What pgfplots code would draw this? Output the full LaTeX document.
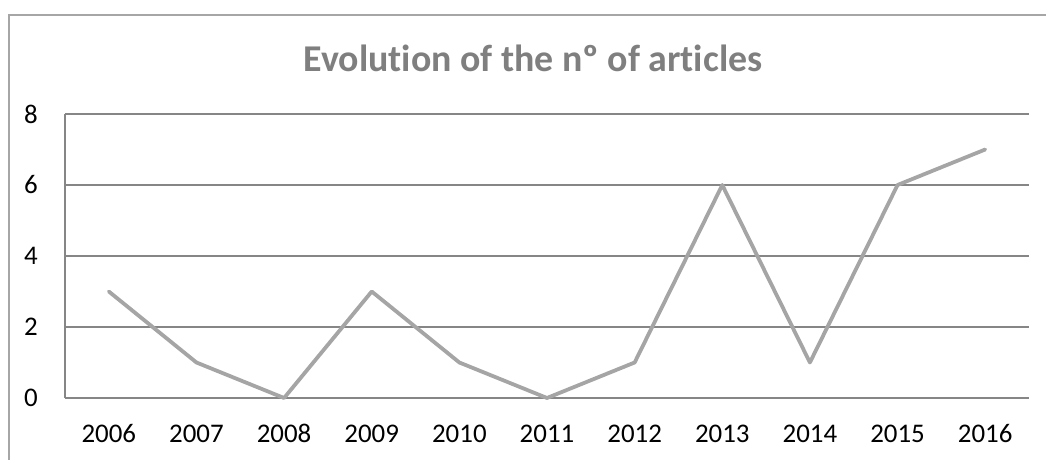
\documentclass[border=0pt]{standalone}
\usepackage{pgfplots}
\pgfplotsset{compat=1.18}
\usepackage{fontspec}
\setmainfont{Carlito}[Ligatures={NoCommon,TeX}]
\definecolor{linegray}{HTML}{A5A5A5}
\definecolor{axisgray}{HTML}{868686}
\definecolor{titlegray}{HTML}{7F7F7F}
\definecolor{framegray}{HTML}{A6A6A6}
\begin{document}
\begin{tikzpicture}
\useasboundingbox (0,0) rectangle (1046bp,460bp);
\draw[framegray, line width=1.3bp] (9bp,0) -- (9bp,445bp) -- (1046bp,445bp);
\node[anchor=base, text=titlegray, inner sep=0pt, font=\fontsize{38}{45}\selectfont\bfseries] at (533bp,388bp) {Evolution of the nº of articles};
\begin{axis}[
  at={(65bp,62bp)}, anchor=south west,
  scale only axis, width=964bp, height=284bp,
  xmin=-0.5, xmax=10.5, ymin=0, ymax=8,
  xtick={0,...,10},
  xticklabels={2006,2007,2008,2009,2010,2011,2012,2013,2014,2015,2016},
  ytick={0,2,4,6,8},
  axis x line*=bottom, axis y line*=left,
  axis line style={axisgray, line width=1.3bp, -},
  ymajorgrids, grid style={axisgray, line width=1.3bp},
  major tick length=0pt,
  /pgf/number format/assume math mode=true,
  tick label style={font=\fontsize{27}{32}\selectfont, inner sep=0pt},
  yticklabel style={anchor=east, xshift=-27bp},
  xticklabel style={anchor=base, yshift=-44bp},
  clip=false,
]
\addplot[linegray, line width=3.8bp, line join=round, line cap=round]
  coordinates {(0,3)(1,1)(2,0)(3,3)(4,1)(5,0)(6,1)(7,6)(8,1)(9,6)(10,7)};
\end{axis}
\end{tikzpicture}
\end{document}
